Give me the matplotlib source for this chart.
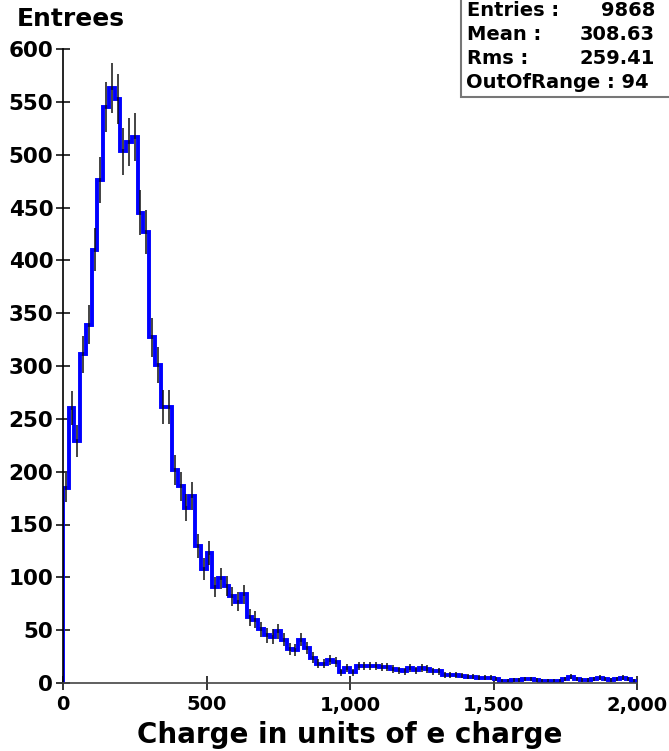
import matplotlib.pyplot as plt
import numpy as np
from matplotlib.patches import Rectangle
from matplotlib.ticker import FuncFormatter

# histogram of the charge, 100 bins of 20 e from 0 to 2000
bin_edges = np.arange(0, 2001, 20)
counts = [185, 260, 229, 311, 339, 410, 476, 545, 563, 553,
          503, 512, 517, 445, 427, 327, 301, 261, 261, 202,
          186, 166, 177, 130, 108, 123, 91, 99, 92, 82,
          77, 84, 62, 60, 51, 45, 44, 49, 41, 32,
          31, 41, 33, 24, 18, 18, 22, 20, 10, 14,
          10, 16, 16, 16, 16, 15, 15, 13, 12, 11,
          14, 12, 14, 13, 11, 11, 8, 8, 8, 7,
          6, 6, 5, 5, 5, 4, 2, 2, 3, 3,
          4, 4, 3, 2, 2, 2, 2, 4, 6, 4,
          3, 3, 4, 5, 4, 3, 4, 5, 4, 2]

stat_names = ["Entries :", "Mean :", "Rms :"]
stat_values = ["9868", "308.63", "259.41"]
out_of_range = "OutOfRange : 94"

x_ticks = [0, 500, 1000, 1500, 2000]
y_ticks = list(range(0, 601, 50))

plt.rcParams['font.family'] = ['DejaVu Sans']
plt.rcParams['font.weight'] = 'bold'

W, H = 669, 751
fig = plt.figure(figsize=(W / 100, H / 100), dpi=100)
ax = fig.add_axes([63 / W, 1 - 683 / H, (637 - 63) / W, (683 - 49) / H])

c = np.array(counts, dtype=float)
centers = (bin_edges[:-1] + bin_edges[1:]) / 2
ax.stairs(c, bin_edges, color='#0000ff', lw=2.8, baseline=0, zorder=2)
ax.vlines(centers, c - np.sqrt(c), c + np.sqrt(c), color='#111111', lw=1.1, zorder=3)

ax.set_xlim(0, 2000)
ax.set_ylim(0, 600)
ax.set_xticks(x_ticks)
ax.set_yticks(y_ticks)
ax.xaxis.set_major_formatter(FuncFormatter(lambda v, p: f"{v:,.0f}"))
ax.tick_params(direction='inout', length=10, width=1.1)
ax.tick_params(axis='x', pad=4, labelsize=14)
ax.tick_params(axis='y', pad=2, labelsize=15.5)
for s in ['top', 'right']:
    ax.spines[s].set_visible(False)
ax.spines['left'].set_linewidth(1.2)
ax.spines['bottom'].set_color('#444444')
ax.spines['bottom'].set_linewidth(1.2)

ax.set_xlabel("Charge in units of e charge", fontsize=20, fontweight='bold', labelpad=5)
fig.text(17 / W, 1 - 19 / H, "Entrees", fontsize=18, fontweight='bold', ha='left', va='center')

# stats box top right
fig.add_artist(Rectangle((461 / W, 1 - 97 / H), (W - 461) / W + 0.01, 97 / H + 0.01,
                         transform=fig.transFigure, facecolor='white', edgecolor='#777777', lw=1.5))
line_y = [10, 34, 58]
for name, val, yy in zip(stat_names, stat_values, line_y):
    fig.text(467 / W, 1 - yy / H, name, fontsize=14, fontweight='bold', ha='left', va='center')
    fig.text(655 / W, 1 - yy / H, val, fontsize=14, fontweight='bold', ha='right', va='center')
fig.text(466 / W, 1 - 83 / H, out_of_range, fontsize=14, fontweight='bold', ha='left', va='center')

fig.savefig("out.png", dpi=100)
